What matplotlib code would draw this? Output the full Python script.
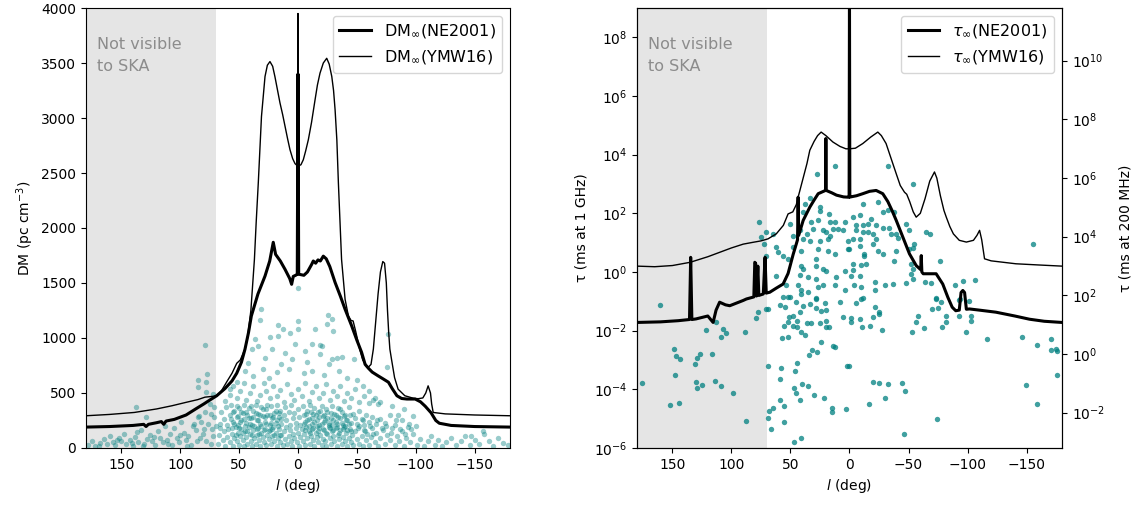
import numpy as np
import matplotlib.pyplot as plt
from matplotlib.ticker import NullLocator

# ---- DM along the Galactic plane (left panel) ----
ne_dm_l = [180, 160, 140, 131, 129, 127, 120, 116, 114, 112, 105, 95, 87, 80, 75, 69, 62, 56, 52,
           48, 45, 42, 39.6, 34, 28, 24, 21, 19, 15, 11, 7, 5.4, 4, 2, 0.6, 0, -0.6, -5, -8, -11.6,
           -13, -15, -17, -19, -21.5, -24, -27, -31.5, -36, -40, -45.6, -50, -54, -57, -59.8, -63,
           -68, -72, -76.8, -80, -84, -88, -92.5, -99.5, -104, -108, -113, -117, -120, -130, -150, -180]
ne_dm = [190, 195, 205, 215, 195, 215, 230, 240, 215, 245, 260, 300, 354, 400, 435, 475, 540, 610, 680,
         780, 898, 1050, 1200, 1400, 1563, 1700, 1870, 1760, 1700, 1624, 1540, 1488, 1560, 1570, 1580, 3400, 1580,
         1570, 1600, 1669, 1700, 1680, 1710, 1700, 1744, 1720, 1650, 1505, 1380, 1261, 1110, 980, 870, 760, 725,
         690, 656, 630, 598, 540, 475, 450, 445, 445, 420, 380, 320, 250, 225, 205, 195, 190]

ymw_dm_l = [180, 160, 139, 120, 107, 95, 85, 79, 72, 69, 65, 60, 56, 52, 49, 45, 43, 40, 37, 35.5,
            33.7, 31, 28, 26, 23.8, 21.5, 19.6, 17.5, 15.3, 13, 11, 8.8, 6.8, 4.5, 2.5, 0.5, 0, -0.5,
            -2.5, -4.5, -6.5, -8.8, -11.5, -14.5, -16.5, -18.7, -21.5, -24.4, -26.5, -28.7, -30.2,
            -31.5, -33, -34.3, -35.7, -37, -40, -42.8, -45, -46.8, -49, -52.4, -55, -59.5, -62, -64,
            -66, -68, -70, -72, -73.5, -75, -76, -77, -78, -79.4, -82, -85, -90.7, -98, -102, -106,
            -108.5, -110.5, -112.5, -113.5, -114.8, -125, -150, -180]
ymw_dm = [293, 305, 323, 355, 384, 415, 440, 462, 470, 475, 520, 610, 680, 770, 800, 900, 990, 1250, 1714, 2050,
          2411, 3014, 3377, 3480, 3513, 3470, 3377, 3260, 3138, 3030, 2925, 2810, 2712, 2630, 2585, 2565, 3950, 2565,
          2575, 2620, 2700, 2803, 2960, 3166, 3300, 3408, 3500, 3543, 3490, 3377, 3250,
          3075, 2800, 2411, 2050, 1714, 1351, 1200, 1160, 1155, 1060, 898, 800, 732, 760, 900,
          1150, 1400, 1600, 1695, 1680, 1500, 1250, 1052, 900, 807, 640, 535, 475, 452, 448, 455,
          500, 565, 500, 400, 323, 310, 300, 293]

# ---- scattering time at 1 GHz (right panel), log10(ms) ----
ne_tau_l = [180, 160, 145, 135.5, 134.5, 133.5, 130, 120, 115.5, 113, 110, 105, 101.4, 90, 87.3, 81, 80.2,
            79.5, 78.8, 77.6, 76.8, 73, 71.5, 70.5, 67.5, 62, 56.2, 52, 50.6, 47.7, 45, 44, 43.5, 43,
            39.2, 33.6, 30, 26.5, 22, 20.3, 20, 19.7, 15, 11, 5, 1, 0.3, 0, -0.3, -1, -6, -11.3, -17,
            -22.6, -28.2, -32.5, -36, -39.6, -45.2, -50.8, -56.5, -60.3, -60.8, -61.3, -62.5, -73.4,
            -79, -83.3, -87, -90, -93, -94.5, -96, -97.5, -99, -101.7, -110, -124, -140, -152.5, -165, -180]
ne_tau = [-1.72, -1.70, -1.66, -1.62, 0.5, -1.62, -1.60, -1.5, -1.72, -1.3, -1.03, -1.12, -1.15, -0.97, -0.92, -0.85, 0.33,
          0.3, -0.82, 0.2, -0.8, -0.75, 0.5, -0.72, -0.69, -0.55, -0.41, -0.05, 0.16, 0.6, 0.96, 1.1, 2.55, 1.25,
          1.76, 2.21, 2.45, 2.67, 2.75, 2.78, 4.55, 2.78, 2.7, 2.62, 2.56, 2.55, 2.55, 9.5, 2.56, 2.56, 2.6, 2.67, 2.75,
          2.78, 2.67, 2.4, 2.1, 1.76, 1.19, 0.62, 0.22, 0.08, 0.56, 0.0, -0.06, -0.06,
          -0.41, -0.86, -1.2, -1.32, -1.3, -0.7, -0.63, -0.7, -1.27, -1.26, -1.3, -1.37, -1.5, -1.61, -1.68, -1.72]

ymw_tau_l = [180, 165, 150, 135, 120, 110, 100, 90, 82, 75, 69, 62, 56, 52, 48, 45, 43.5, 39, 36, 33.6,
             30, 27, 24, 20, 14, 8, 3, 0, -5, -11.3, -18, -24, -27, -31, -35, -39.6, -43, -46.6, -48.5,
             -51, -54, -56.5, -60, -64, -68, -72, -74, -77, -80, -82, -85, -88, -93, -99, -105, -108,
             -110.2, -112, -114.4, -120, -141, -160, -180]
ymw_tau = [0.20, 0.18, 0.22, 0.33, 0.52, 0.67, 0.82, 0.95, 1.01, 1.06, 1.13, 1.3, 1.59, 1.98, 2.05, 2.3, 2.55, 3.24, 3.7, 4.15,
           4.45, 4.65, 4.77, 4.65, 4.43, 4.28, 4.2, 4.2, 4.22, 4.38, 4.6, 4.77, 4.65, 4.38, 3.9, 3.35, 2.95, 2.72, 2.65,
           2.4, 2.05, 1.87, 2.0, 2.5, 3.1, 3.41, 3.2, 2.6, 2.1, 1.87, 1.55, 1.30, 1.08, 1.02, 1.08, 1.25,
           1.42, 1.1, 0.45, 0.38, 0.28, 0.24, 0.20]

# ---- pulsars: (l, DM) ----
dm_points = [
    # sparse high-DM
    (-0.3, 1458), (31.5, 1261), (32.3, 1164), (16.8, 1116), (12.5, 1079), (-0.3, 1155), (-0.3, 1079),
    (-14.5, 1079), (-24.4, 1125), (-28.7, 1170), (-30, 1064), (-25.2, 1209), (16.8, 1019), (23.8, 1013),
    (36.6, 989), (6.8, 1043), (-6, 883), (-11.6, 943), (-18.7, 934), (-20.2, 928), (-18.7, 853),
    (-28.7, 807), (-32.9, 822), (-37.2, 828), (-47.9, 807), (22.4, 898), (33.8, 928), (39.4, 898),
    (11, 868), (2.6, 943), (42.3, 777), (5.4, 807), (-75.4, 732), (-76.8, 1034), (79.1, 940),
    (77.6, 677), (84.8, 617), (78.2, 596), (85.1, 551), (137.2, 369), (128.7, 278), (136.6, 142),
    (78.2, 505), (72.5, 490), (71.2, 369), (74, 308), (88.2, 218), (82.5, 232), (83.9, 293),
    (45, 700), (38, 650), (30, 720), (25, 640), (18, 690), (8, 720), (-5, 680), (-12, 700), (-22, 660),
    (-35, 700), (-42, 640), (-50, 620), (-55, 560), (28, 820), (14, 760), (-8, 780), (-26, 760),
    (52, 600), (58, 540), (-60, 520), (-65, 450), (-70, 420), (-80, 380), (-85, 300), (-90, 350),
    # 400-600
    (62, 430), (58, 480), (55, 560), (52, 450), (49, 520), (46, 590), (44, 440), (41, 500), (38, 560),
    (35, 430), (32, 480), (29, 590), (27, 520), (24, 450), (21, 560), (18, 470), (15, 530), (12, 420),
    (9, 580), (6, 490), (3, 440), (0, 540), (-3, 470), (-6, 590), (-9, 430), (-12, 510), (-15, 560),
    (-18, 450), (-21, 500), (-24, 580), (-27, 440), (-30, 520), (-33, 470), (-36, 560), (-39, 430),
    (-42, 500), (-45, 450), (-48, 540), (-52, 420), (-56, 470), (-60, 410), (-64, 440), (-68, 400),
    # 200-400
    (66, 220), (65, 330), (63, 260), (61, 370), (60, 210), (58, 300), (57, 390), (55, 240), (54, 340),
    (52, 280), (51, 210), (50, 360), (48, 250), (47, 320), (46, 390), (44, 230), (43, 300), (42, 360),
    (40, 270), (39, 210), (38, 340), (36, 390), (35, 250), (34, 310), (32, 220), (31, 370), (30, 290),
    (28, 240), (27, 350), (26, 300), (24, 210), (23, 380), (22, 270), (20, 320), (19, 230), (18, 390),
    (16, 280), (15, 340), (14, 220), (12, 300), (11, 370), (10, 250), (8, 330), (7, 210), (6, 390),
    (4, 270), (3, 320), (2, 230), (0, 350), (-1, 280), (-2, 210), (-4, 380), (-5, 300), (-6, 240),
    (-8, 340), (-9, 260), (-10, 390), (-12, 220), (-13, 310), (-14, 360), (-16, 250), (-17, 330),
    (-18, 210), (-20, 380), (-21, 290), (-22, 240), (-24, 350), (-25, 270), (-26, 210), (-28, 320),
    (-29, 380), (-30, 250), (-32, 300), (-33, 220), (-34, 360), (-36, 270), (-37, 330), (-38, 210),
    (-40, 300), (-42, 250), (-43, 370), (-45, 230), (-47, 310), (-48, 270), (-50, 220), (-52, 340),
    (-54, 260), (-56, 210), (-58, 300), (-60, 240), (-63, 280), (-66, 220), (-70, 260), (-74, 230),
    (-78, 300), (-82, 210), (-88, 250), (-94, 220), (-100, 200),
    # inner-galaxy core, first quadrant
    (57, 260), (56, 180), (55, 330), (54, 220), (53, 120), (52, 380), (51, 290), (50, 180), (49, 240),
    (48, 330), (47, 140), (46, 260), (45, 200), (44, 330), (43, 150), (42, 270), (41, 220), (40, 380),
    (39, 120), (38, 280), (37, 200), (36, 320), (35, 170), (34, 250), (33, 130), (32, 300), (31, 200),
    (30, 350), (29, 160), (28, 280), (27, 220), (26, 390), (25, 150), (24, 300), (23, 230), (22, 170),
    (21, 280), (20, 120), (19, 340), (18, 250), (17, 200), (16, 320), (15, 120), (14, 260),
    # inner-galaxy core, fourth quadrant
    (-5, 220), (-6, 160), (-7, 310), (-8, 250), (-9, 200), (-10, 140), (-11, 330), (-12, 270),
    (-13, 180), (-14, 240), (-15, 300), (-16, 200), (-17, 150), (-18, 280), (-19, 340), (-20, 220),
    (-21, 170), (-22, 300), (-23, 250), (-24, 140), (-25, 330), (-26, 230), (-27, 180), (-28, 270),
    (-29, 210), (-30, 160), (-31, 310), (-32, 240), (-33, 190), (-34, 280), (-35, 140), (-36, 350),
    (-37, 230), (-38, 170), (-39, 290), (-40, 200), (-41, 250), (-42, 160), (-43, 220), (-44, 300),
    (-45, 150), (-52, 200), (-55, 250), (-57, 150), (-61, 200), (-64, 130), (-67, 250), (-71, 180),
    (-75, 200), (-79, 140), (-83, 250), (-87, 170), (-91, 130), (-96, 170),
    # 0-200
    (68, 40), (67, 120), (66, 180), (64, 70), (63, 150), (62, 20), (60, 100), (59, 170), (58, 50),
    (56, 130), (55, 15), (54, 90), (53, 190), (52, 60), (51, 140), (50, 30), (49, 110), (48, 170),
    (47, 70), (46, 20), (45, 150), (44, 100), (43, 40), (42, 190), (41, 130), (40, 60), (39, 20),
    (38, 160), (37, 90), (36, 40), (35, 120), (34, 180), (33, 70), (32, 15), (31, 140), (30, 100),
    (29, 50), (28, 170), (27, 25), (26, 120), (25, 80), (24, 160), (23, 40), (22, 110), (21, 190),
    (20, 60), (19, 140), (18, 20), (17, 90), (16, 170), (15, 50), (14, 120), (13, 30), (12, 150),
    (11, 80), (10, 190), (9, 40), (8, 110), (7, 160), (6, 60), (5, 20), (4, 130), (3, 90), (2, 180),
    (1, 50), (0, 140), (-1, 20), (-2, 100), (-3, 170), (-4, 60), (-5, 130), (-6, 30), (-7, 190),
    (-8, 90), (-9, 150), (-10, 40), (-11, 110), (-12, 170), (-13, 70), (-14, 20), (-15, 140),
    (-16, 100), (-17, 50), (-18, 180), (-19, 120), (-20, 30), (-21, 80), (-22, 160), (-23, 60),
    (-24, 20), (-25, 130), (-26, 190), (-27, 90), (-28, 40), (-29, 150), (-30, 110), (-31, 60),
    (-32, 180), (-33, 20), (-34, 120), (-35, 80), (-36, 160), (-37, 40), (-38, 100), (-39, 190),
    (-40, 60), (-41, 140), (-42, 20), (-43, 90), (-44, 170), (-45, 50), (-46, 120), (-47, 30),
    (-48, 150), (-50, 80), (-51, 180), (-52, 40), (-54, 110), (-55, 20), (-56, 160), (-58, 70),
    (-59, 130), (-60, 30), (-62, 100), (-63, 180), (-65, 50), (-66, 140), (-68, 20), (-70, 90),
    (-72, 160), (-74, 40), (-76, 120), (-78, 70), (-80, 180), (-82, 30), (-84, 110), (-86, 60),
    (-88, 150), (-90, 20), (-92, 90), (-95, 50), (-98, 130), (-101, 30), (-104, 80), (-107, 20),
    (-110, 60), (-113, 110), (-116, 30), (-119, 70), (-122, 20), (-126, 50), (-130, 90), (-134, 30),
    (-138, 60), (-142, 110), (-146, 25), (-150, 70), (-154, 40), (-158, 130), (-162, 60), (-166, 20),
    (-170, 90), (-174, 45), (-178, 25), (-147, 111), (-157, 157), (-93.5, 188), (-97.8, 293),
    # outer galaxy, behind the grey band
    (178, 30), (175, 60), (172, 20), (168, 45), (165, 80), (162, 35), (160, 110), (157, 55), (155, 25),
    (152, 90), (150, 60), (148, 130), (146, 40), (143, 75), (140, 20), (138, 100), (136, 55), (133, 160),
    (131, 35), (128, 85), (126, 120), (124, 60), (121, 30), (119, 150), (117, 95), (115, 50), (113, 200),
    (111, 70), (109, 130), (107, 25), (105, 180), (103, 90), (101, 55), (99, 240), (97, 140), (95, 70),
    (93, 110), (91, 30), (89, 200), (87, 160), (85, 280), (83, 90), (81, 130), (79, 330), (78, 60),
    (76, 220), (75, 400), (73, 170), (72, 110), (71, 280), (169, 15), (154, 70), (141, 45), (132, 20),
    (122, 100), (110, 35), (100, 120), (94, 20), (86, 60), (80, 170), (74, 40), (70, 200),
]

# ---- pulsars: (l, log10 tau[ms] at 1 GHz) ----
tau_points = [
    (12.4, 3.60), (27.1, 3.33), (33.6, 2.52), (37.9, 2.33), (25.2, 2.21), (24.6, 2.07), (17.2, 1.98),
    (39.2, 2.04), (32.2, 1.70), (26.5, 1.76), (16.7, 1.70), (12.4, 1.70), (4.0, 1.70), (76.5, 1.70),
    (50.6, 1.64), (47.7, 1.24), (42.1, 1.42), (36.4, 1.30), (30.8, 1.47), (22.3, 1.42), (19.5, 1.36),
    (13.8, 1.47), (9.6, 1.47), (5.3, 1.42), (70.3, 1.36), (75.2, 1.21), (64.7, 1.28), (72.2, 0.96),
    (39.2, 1.13), (33.6, 1.07), (25.2, 1.07), (16.7, 1.24), (18.4, 1.13), (62, 0.85), (47.7, 0.85),
    (40.7, 0.73), (26.5, 0.79), (18.4, 0.73), (1.1, 0.77), (60.4, 0.67), (56.2, 0.56), (70.3, 0.56),
    (52, 0.45), (28, 0.45), (12.4, 0.62), (40.7, 0.22), (39.2, 0.11), (28, 0.19), (22.3, 0.11),
    (19.5, 0.05), (62, -0.12), (42.1, -0.09), (28, -0.24), (35.3, -0.18), (11, -0.18), (4, 0.05),
    (53.4, -0.46), (43.5, -0.46), (40.7, -0.61), (35.3, -0.69), (26.5, -0.52), (22.3, -0.46),
    (12.4, -0.46), (4, -0.63), (56.2, -0.86), (50.6, -0.86), (28, -0.92), (40.7, -0.75), (1.1, 1.07),
    (-32.5, 3.60), (-53.7, 3.01), (-155.4, 0.96), (-11.3, 2.33), (-24, 2.38), (-2.8, 1.87), (-8.5, 1.93),
    (-28.2, 2.06), (-32.5, 2.10), (-38.1, 2.04), (-18.4, 1.81), (-5.7, 1.59), (-11.3, 1.59), (-15.5, 1.64),
    (-22.6, 1.59), (-28.2, 1.51), (-33.9, 1.51), (-48, 1.64), (-5.7, 1.42), (-11.3, 1.36), (-15.5, 1.36),
    (-19.7, 1.30), (-35.3, 1.30), (-39.6, 1.30), (-50.8, 1.42), (-65, 1.36), (-67.8, 1.28), (-2.8, 1.13),
    (-8.5, 1.13), (-22.6, 1.13), (-41, 1.17), (-19.7, 0.96), (-8.5, 0.90), (0, 0.79), (-55, 0.96),
    (-50.8, 0.79), (-24, 0.73), (-28.2, 0.62), (-12.7, 0.62), (-12.7, 0.53), (-39.6, 0.71), (-53.7, 0.81),
    (-38.1, 0.37), (-76.3, 0.39), (-2.8, 0.28), (-9.9, 0.25), (-14.1, 0.28), (-52.3, 0.28), (-2.8, 0.07),
    (-53.7, 0.11), (-52.3, -0.06), (-1.4, -0.12), (-8.5, -0.12), (-53.7, -0.24), (-63.6, -0.33),
    (-69.2, -0.38), (-21.2, -0.33), (-48, -0.37), (-89, -0.43), (-96, -0.29), (-106, -0.27), (-4.2, -0.46),
    (-9.9, -0.52), (-29.7, -0.43), (-36.7, -0.41), (-21.2, -0.63), (-11.3, -0.90), (-73.4, -0.90),
    (-93.2, -0.92),
    (160.2, -1.12), (121.2, -1.98), (107, -1.94), (104.2, -2.09), (108.5, -2.20), (88.7, -2.06),
    (112.7, -1.69), (77.4, -1.35), (78.8, -1.58), (70.3, -1.26), (148.9, -2.61), (146.6, -2.86),
    (143.8, -2.97), (126.3, -2.80), (129.1, -2.93), (131.1, -3.14), (116.1, -2.80), (148, -3.51),
    (175.4, -3.79), (129.7, -3.74), (129.1, -3.96), (124.6, -3.86), (114.2, -3.71), (108.5, -3.88),
    (98.6, -4.11), (152.3, -4.54), (144.7, -4.45), (87.9, -5.08), (68.9, -3.20), (57.6, -3.29),
    (46.4, -3.39), (44.3, -3.10), (59, -3.65), (39.8, -3.82), (35.3, -3.88), (47.2, -3.97), (44.9, -4.11),
    (42.1, -4.37), (29.9, -4.20), (21.4, -4.30), (58.5, -4.36), (55.3, -4.56), (64.7, -4.65),
    (68.1, -4.73), (68.9, -4.98), (66.1, -5.36), (55.3, -5.11), (47.2, -5.79), (41.3, -5.65),
    (14.7, -4.65), (14.7, -4.76), (3.1, -4.68), (1.7, -3.20), (13.8, -2.51), (12.1, -2.55), (23.7, -2.38),
    (31.4, -2.65), (27.1, -2.72), (34.5, -2.83), (57, -2.25), (52, -2.20), (41.3, -2.06), (37.9, -2.15),
    (55.3, -1.83), (47.7, -1.83), (44.1, -1.89), (35.8, -1.74), (32.2, -1.74), (25.2, -1.75),
    (20.1, -1.68), (20.3, -1.89), (17.2, -1.89), (52, -1.69), (47.7, -1.49), (44.3, -1.66), (42.1, -1.38),
    (51.1, -1.52), (39.2, -1.15), (33.6, -1.09), (28, -1.24), (23.7, -1.34), (20.3, -1.28), (8.2, -1.03),
    (5.3, -1.55), (59, -1.12), (54.8, -1.20), (44.9, -1.03), (28, -0.90), (20.8, -1.06), (52, -0.86),
    (68.9, -1.26),
    (-5.7, -1.06), (-9.9, -0.92), (-21.2, -1.20), (-24.9, -1.35), (-25.4, -1.43), (-1.4, -1.58),
    (-8.5, -1.60), (-1.4, -1.72), (-19.7, -1.55), (-10.5, -1.89), (-17.5, -1.83), (-27.7, -1.98),
    (-52.9, -2.04), (-56, -1.72), (-58, -1.49), (-62.7, -1.91), (-70.1, -1.26), (-74.8, -1.24),
    (-72.9, -0.92), (-77.7, -1.03), (-78.5, -1.89), (-82, -1.72), (-81.4, -1.49), (-92.7, -1.49),
    (-92.7, -0.94), (-101.1, -0.98), (-103.1, -1.49), (-103.1, -1.66), (-98.9, -2.04), (-116.4, -2.29),
    (-146, -2.20), (-158.7, -2.48), (-170.9, -2.29), (-170.9, -2.66), (-175.2, -2.63), (-175.7, -2.71),
    (-175.7, -3.50), (-149.2, -3.86), (-158.7, -4.51), (0, -3.20), (-19.7, -3.74), (-25.4, -3.79),
    (-32.5, -3.82), (-44.3, -3.77), (-47.2, -4.05), (-30.3, -4.30), (-16.9, -4.51), (-74, -5.00),
    (-46, -5.53),
]

tau_ticks_1ghz = [1e-6, 1e-4, 1e-2, 1e0, 1e2, 1e4, 1e6, 1e8]
tau_ticks_200mhz = [1e-2, 1e0, 1e2, 1e4, 1e6, 1e8, 1e10]

psr_l, psr_dm = np.array(dm_points).T
tau_l, tau_log = np.array(tau_points).T

teal = '#008080'
grey_band = '#e5e5e5'
freq_factor = (1.0 / 0.2) ** 4  # 1 GHz -> 200 MHz

fig = plt.figure(figsize=(11.45, 5.07), dpi=100)
ax1 = fig.add_axes([0.0751, 0.1164, 0.3703, 0.8678])
ax2 = fig.add_axes([0.5563, 0.1164, 0.3712, 0.8678])

# left: DM
ax1.axvspan(70, 180, color=grey_band, lw=0, zorder=0)
ax1.scatter(psr_l, psr_dm, s=15, color=teal, alpha=0.4, lw=0, zorder=1)
ax1.plot(ne_dm_l, ne_dm, color='k', lw=2.2, label=r'DM$_\infty$(NE2001)', zorder=3)
ax1.plot(ymw_dm_l, ymw_dm, color='k', lw=1.0, label=r'DM$_\infty$(YMW16)', zorder=3)
ax1.text(0.026, 0.935, 'Not visible\nto SKA', transform=ax1.transAxes, color='0.55',
         fontsize=11.5, va='top', ha='left', linespacing=1.6)
ax1.set_xlim(180, -180)
ax1.set_ylim(0, 4000)
ax1.set_xlabel(r'$l$ (deg)')
ax1.set_ylabel(r'DM (pc cm$^{-3}$)')
ax1.legend(loc='upper right', fontsize=11.5)

# right: scattering time
ax2.axvspan(70, 180, color=grey_band, lw=0, zorder=0)
ax2.scatter(tau_l, 10 ** tau_log, s=15, color=teal, alpha=0.75, lw=0, zorder=1)
ax2.plot(ne_tau_l, 10 ** np.array(ne_tau), color='k', lw=2.2, label=r'$\tau_\infty$(NE2001)', zorder=3)
ax2.plot(ymw_tau_l, 10 ** np.array(ymw_tau), color='k', lw=1.0, label=r'$\tau_\infty$(YMW16)', zorder=3)
ax2.text(0.026, 0.935, 'Not visible\nto SKA', transform=ax2.transAxes, color='0.55',
         fontsize=11.5, va='top', ha='left', linespacing=1.6)
ax2.set_yscale('log')
ax2.set_xlim(180, -180)
ax2.set_ylim(1e-6, 1e9)
ax2.set_yticks(tau_ticks_1ghz)
ax2.yaxis.set_minor_locator(NullLocator())
ax2.set_xlabel(r'$l$ (deg)')
ax2.set_ylabel('τ (ms at 1 GHz)')
ax2.legend(loc='upper right', fontsize=11.5)

ax3 = ax2.twinx()
ax3.set_yscale('log')
ax3.set_ylim(1e-6 * freq_factor, 1e9 * freq_factor)
ax3.set_yticks(tau_ticks_200mhz)
ax3.yaxis.set_minor_locator(NullLocator())
ax3.set_ylabel('τ (ms at 200 MHz)', labelpad=10)

fig.savefig('out.png', dpi=100)
